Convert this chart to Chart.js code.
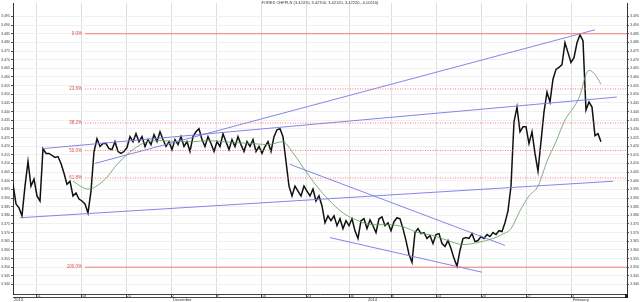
<!DOCTYPE html>
<html><head><meta charset="utf-8">
<script src="https://cdn.jsdelivr.net/npm/chart.js@4.4.1/dist/chart.umd.min.js"></script>
<style>html,body{margin:0;padding:0;background:#fff;overflow:hidden}</style>
</head><body><canvas id="c" width="640" height="302"></canvas>
<script>
// ---- data (8-hour bars, index 0 = first bar) ----
const titleText = "FOREX CHFPLN (3.42470, 3.42700, 3.42120, 3.42220, -0.00110)";
const closes = [
3.3980,3.3866,3.3843,3.3797,3.3969,3.4112,3.3969,3.4009,3.3912,3.3883,
3.4186,3.4158,3.4158,3.4146,3.4135,3.4140,3.4100,3.4043,3.3980,3.3997,
3.3912,3.3929,3.3894,3.3883,3.3866,3.3814,3.3940,3.4169,3.4243,3.4198,
3.4215,3.4215,3.4186,3.4180,3.4226,3.4169,3.4158,3.4169,3.4192,3.4255,
3.4226,3.4272,3.4226,3.4255,3.4198,3.4238,3.4209,3.4266,3.4226,3.4283,
3.4238,3.4198,3.4226,3.4180,3.4238,3.4209,3.4255,3.4198,3.4226,3.4169,
3.4255,3.4283,3.4301,3.4238,3.4198,3.4255,3.4215,3.4169,3.4226,3.4198,
3.4272,3.4226,3.4180,3.4238,3.4198,3.4255,3.4209,3.4169,3.4226,3.4198,
3.4238,3.4169,3.4198,3.4158,3.4198,3.4226,3.4169,3.4255,3.4295,3.4301,
3.4255,3.4112,3.3969,3.3912,3.3969,3.3940,3.3912,3.3969,3.3940,3.3912,
3.3952,3.3883,3.3912,3.3854,3.3757,3.3797,3.3769,3.3797,3.3740,3.3780,
3.3723,3.3769,3.3740,3.3780,3.3711,3.3666,3.3769,3.3780,3.3723,3.3774,
3.3740,3.3700,3.3780,3.3791,3.3740,3.3757,3.3711,3.3763,3.3786,3.3780,
3.3723,3.3654,3.3574,3.3528,3.3700,3.3723,3.3694,3.3700,3.3666,3.3683,
3.3637,3.3689,3.3694,3.3637,3.3620,3.3654,3.3608,3.3551,3.3505,3.3597,
3.3666,3.3671,3.3666,3.3694,3.3648,3.3654,3.3677,3.3666,3.3689,3.3677,
3.3700,3.3689,3.3711,3.3706,3.3757,3.3826,3.3969,3.4341,3.4426,3.4283,
3.4312,3.4312,3.4215,3.4283,3.4158,3.4055,3.4226,3.4398,3.4512,3.4455,
3.4587,3.4644,3.4655,3.4672,3.4798,3.4741,3.4684,3.4712,3.4798,3.4844,
3.4810,3.4409,3.4455,3.4426,3.4261,3.4272,3.4226
];
const maIndex = [20,25,30,35,40,45,50,55,60,65,70,75,80,85,90,93,96,100,105,110,115,120,125,130,135,140,145,150,155,160,163,166,169,172,175,178,181,184,187,189,191,192,194,196];
const maValues = [3.3997,3.3952,3.3997,3.4100,3.4180,3.4226,3.4232,3.4226,3.4226,3.4232,3.4226,3.4220,3.4215,3.4209,3.4226,3.4169,3.4095,3.3997,3.3894,3.3814,3.3769,3.3746,3.3746,3.3734,3.3700,3.3683,3.3654,3.3631,3.3643,3.3666,3.3689,3.3723,3.3826,3.3912,3.3969,3.4112,3.4226,3.4352,3.4427,3.4495,3.4615,3.4638,3.4615,3.4558];
// trend lines: [startIndex, startValue, endIndex, endValue]
const trendLines = [
  [2.3, 3.3786, 200, 3.3997],
  [10, 3.4186, 201.3, 3.4484],
  [27.3, 3.4100, 194, 3.4873],
  [92.3, 3.4095, 164, 3.3626],
  [105.7, 3.3671, 156.3, 3.3471]
];
const fibLevels = [3.4850, 3.4531, 3.4334, 3.4175, 3.4016, 3.3500];
const fibNames = ["0.0%","23.6%","38.2%","50.0%","61.8%","100.0%"];
const fibStartIndex = 24;
const xMin = 0, xMax = 204.67;
const weekTickIndex = [8,23,38,53,68,83,98,112.3,126.3,141.3,156.3,171.3,186.3];
const weekTickLabels = ["11","18","25","2","9","16","23","30","6","13","20","27","3"];
const monthTickIndex = [0,53,118,186.3];
const monthLabels = ["2013","December","2014","February"];
const yTickValues = [3.340,3.345,3.350,3.355,3.360,3.365,3.370,3.375,3.380,3.385,3.390,3.395,3.400,3.405,3.410,3.415,3.420,3.425,3.430,3.435,3.440,3.445,3.450,3.455,3.460,3.465,3.470,3.475,3.480,3.485,3.490,3.495];
const yMin = 3.3345, yMax = 3.5027;

// ---- datasets ----
const datasets = [];
fibLevels.forEach((lv, i) => {
  const solid = (i === 0 || i === fibLevels.length - 1);
  datasets.push({ data: [{x: fibStartIndex, y: lv}, {x: xMax, y: lv}],
    borderColor: 'rgba(240,110,110,0.9)',
    borderWidth: 1, borderDash: solid ? [] : [1, 1.5], pointRadius: 0, yAxisID: 'y' });
});
trendLines.forEach(t => {
  datasets.push({ data: [{x: t[0], y: t[1]}, {x: t[2], y: t[3]}],
    borderColor: 'rgba(120,120,230,0.9)', borderWidth: 1, pointRadius: 0, yAxisID: 'y' });
});
datasets.push({ data: maIndex.map((x, i) => ({x, y: maValues[i]})),
  borderColor: '#5f9a5f', borderWidth: 0.8, pointRadius: 0, cubicInterpolationMode: 'monotone', yAxisID: 'y' });
datasets.push({ data: closes.map((v, i) => ({x: i, y: v})),
  borderColor: '#111', borderWidth: 1.5, pointRadius: 0, tension: 0, yAxisID: 'y' });

const FONT = '"Liberation Sans", Arial, sans-serif';
const overlay = {
  id: 'overlay',
  afterDatasetsDraw(chart) {
    const ctx = chart.ctx, xs = chart.scales.x, ys = chart.scales.y;
    ctx.save();
    ctx.font = '4.5px ' + FONT;
    ctx.fillStyle = '#e04a4a';
    ctx.textAlign = 'right'; ctx.textBaseline = 'middle';
    fibLevels.forEach((lv, i) => {
      ctx.fillText(fibNames[i], xs.getPixelForValue(fibStartIndex) - 3, ys.getPixelForValue(lv));
    });
    ctx.fillStyle = '#333'; ctx.textAlign = 'center'; ctx.textBaseline = 'top';
    ctx.font = '4px ' + FONT;
    ctx.fillText(titleText, (chart.chartArea.left + chart.chartArea.right) / 2, 1);
    ctx.textAlign = 'left';
    monthLabels.forEach((m, i) => {
      ctx.fillText(m, xs.getPixelForValue(monthTickIndex[i]) + 1, 298);
    });
    ctx.strokeStyle = '#444'; ctx.lineWidth = 1;
    ctx.beginPath(); ctx.moveTo(chart.chartArea.left, 297.5); ctx.lineTo(chart.chartArea.right, 297.5); ctx.stroke();
    ctx.fillStyle = '#222';
    ctx.fillRect(chart.chartArea.right - 2, 294, 3, 4);
    ctx.restore();
  }
};

const yCommon = {
  type: 'linear', min: yMin, max: yMax,
  afterBuildTicks: s => { s.ticks = yTickValues.map(v => ({value: v})); },
  ticks: { font: {size: 3.6, family: FONT}, color: '#444', padding: 1,
    callback: v => Number(v).toFixed(3), autoSkip: false },
  border: { color: '#333', width: 1 }
};

new Chart(document.getElementById('c'), {
  type: 'line',
  data: { datasets },
  options: {
    responsive: false, animation: false, devicePixelRatio: 1,
    layout: { padding: 0 },
    plugins: { legend: { display: false }, tooltip: { enabled: false }, title: { display: false } },
    elements: { line: { fill: false } },
    scales: {
      x: { type: 'linear', min: xMin, max: xMax, position: 'bottom',
        afterBuildTicks: s => { s.ticks = weekTickIndex.map(v => ({value: v})); },
        afterFit: s => { s.height = 8; },
        ticks: { font: {size: 3.6, family: FONT}, color: '#333', padding: -3,
          autoSkip: false, maxRotation: 0, align: 'start',
          callback: (v, i) => weekTickLabels[i] },
        grid: { color: '#dedede', lineWidth: 1, tickLength: 3, tickColor: '#444' },
        border: { color: '#444', width: 1 } },
      y: Object.assign({}, yCommon, { position: 'left',
        afterFit: s => { s.width = 13; },
        grid: { color: '#f0f0f0', lineWidth: 1, tickLength: 2, tickColor: '#555' } }),
      y2: Object.assign({}, yCommon, { position: 'right',
        afterFit: s => { s.width = 13; },
        grid: { drawOnChartArea: false, tickLength: 2, tickColor: '#555' } })
    }
  },
  plugins: [overlay]
});
</script>
</body></html>
